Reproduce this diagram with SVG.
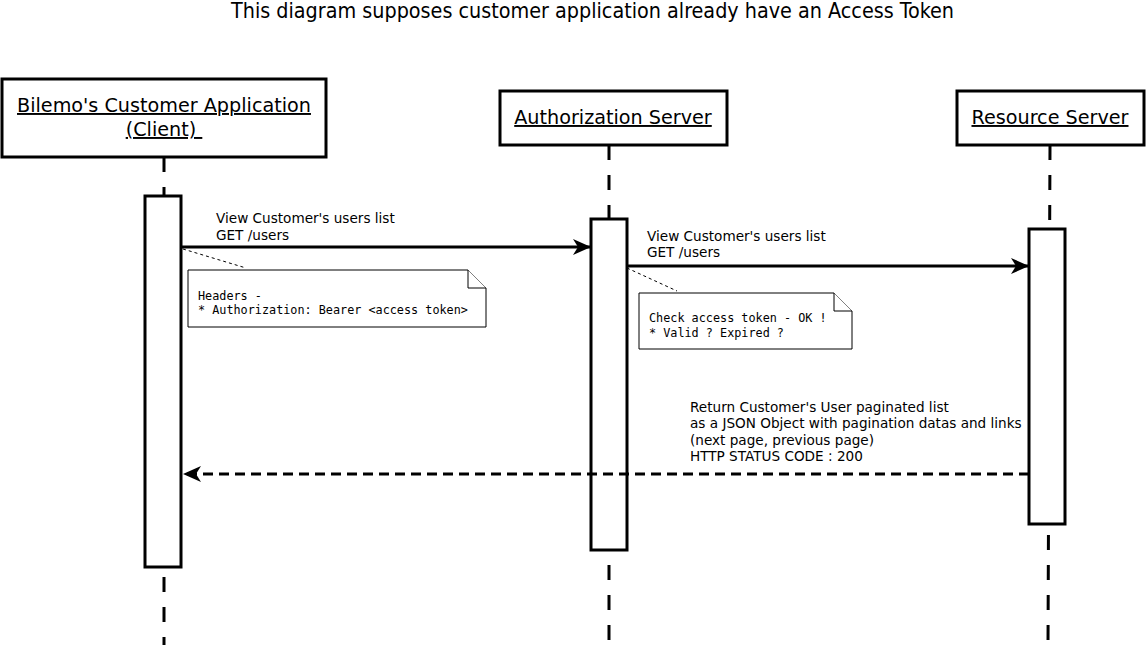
<svg xmlns="http://www.w3.org/2000/svg" width="1147" height="646" viewBox="0 0 1147 646">
<style>
.hdr{fill:#fff;stroke:#000;stroke-width:3}
.ht{font-family:"DejaVu Sans",sans-serif;font-size:19.2px;fill:#000;text-anchor:middle;text-decoration:underline}
.life{stroke:#000;stroke-width:3;stroke-dasharray:15,15;fill:none}
.act{fill:#fff;stroke:#000;stroke-width:3}
.msg{stroke:#000;stroke-width:3;fill:none}
.ret{stroke:#000;stroke-width:3;fill:none;stroke-dasharray:10,6}
.lbl{font-family:"DejaVu Sans",sans-serif;font-size:13.6px;fill:#000}
.note{fill:#fff;stroke:#000;stroke-width:1}
.nt{font-family:"DejaVu Sans Mono",monospace;font-size:11.8px;fill:#000}
.nl{stroke:#000;stroke-width:1;stroke-dasharray:3,3;fill:none}
</style>
<defs>
<marker id="ah" markerWidth="20" markerHeight="18" refX="18" refY="9" orient="auto" markerUnits="userSpaceOnUse">
<path d="M0,1 L18,9 L0,17 L5,9 Z" fill="#000"/>
</marker>
</defs>
<rect width="1147" height="646" fill="#fff"/>
<text x="231" y="18" font-family="DejaVu Sans Condensed, DejaVu Sans, sans-serif" font-size="21" fill="#000" textLength="723" lengthAdjust="spacingAndGlyphs">This diagram supposes customer application already have an Access Token</text>

<g id="lifelines">
<line class="life" x1="164" y1="157" x2="164" y2="645"/>
<line class="life" x1="609" y1="145" x2="609" y2="645"/>
<line class="life" x1="1050" y1="145" x2="1048" y2="645"/>
</g>

<g id="client">
<rect class="hdr" x="2" y="79" width="324" height="78"/>
<text class="ht" x="164" y="112">Bilemo's Customer Application</text>
<text class="ht" x="164" y="136" xml:space="preserve">(Client) </text>
<rect class="act" x="145" y="196" width="36" height="371"/>
</g>

<g id="auth">
<rect class="hdr" x="500" y="91" width="227" height="54"/>
<text class="ht" x="613" y="124">Authorization Server</text>
<rect class="act" x="591" y="219" width="36" height="331"/>
</g>

<g id="resource">
<rect class="hdr" x="957" y="91" width="187" height="54"/>
<text class="ht" x="1050" y="124">Resource Server</text>
<rect class="act" x="1029" y="229" width="36" height="295"/>
</g>

<g id="connectors">
<line class="msg" x1="181" y1="247" x2="591" y2="247" marker-end="url(#ah)"/>
<text class="lbl" x="216" y="223">View Customer's users list</text>
<text class="lbl" x="216" y="240">GET /users</text>

<line class="msg" x1="627" y1="266" x2="1029" y2="266" marker-end="url(#ah)"/>
<text class="lbl" x="647" y="241">View Customer's users list</text>
<text class="lbl" x="647" y="257">GET /users</text>

<line class="ret" x1="1029" y1="474" x2="183" y2="474" marker-end="url(#ah)"/>
<text class="lbl" x="690" y="412">Return Customer's User paginated list</text>
<text class="lbl" x="690" y="428">as a JSON Object with pagination datas and links</text>
<text class="lbl" x="690" y="445">(next page, previous page)</text>
<text class="lbl" x="690" y="461">HTTP STATUS CODE : 200</text>

<line class="nl" x1="183" y1="249" x2="246" y2="268"/>
<line class="nl" x1="627" y1="268" x2="677" y2="291"/>
</g>

<g id="note1">
<path class="note" d="M188,270 H468 L486,288 V327 H188 Z"/>
<path class="note" d="M468,270 V288 H486"/>
<text class="nt" x="198" y="300">Headers -</text>
<text class="nt" x="198" y="314">* Authorization: Bearer &lt;access token&gt;</text>
</g>

<g id="note2">
<path class="note" d="M639,293 H834 L852,311 V349 H639 Z"/>
<path class="note" d="M834,293 V311 H852"/>
<text class="nt" x="649" y="322">Check access token - OK !</text>
<text class="nt" x="649" y="337">* Valid ? Expired ?</text>
</g>
</svg>
